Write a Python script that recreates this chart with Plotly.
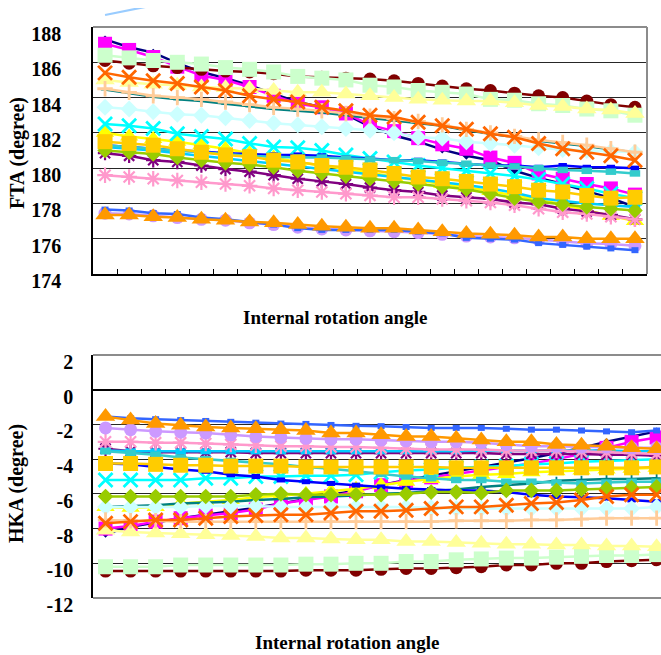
import plotly.graph_objects as go

categories = list(range(1, 24))

# ---------------- FTA (degree) ----------------
fta_navy = [187.3, 186.85, 186.55, 185.95, 185.45, 185.1, 184.7, 184.2, 183.75, 183.45, 183.05, 182.35, 181.85, 181.5, 181.05, 180.7, 180.45, 179.85, 179.45, 179.1, 178.7, 178.3, 177.8]
fta_magenta = [187.05, 186.7, 186.3, 185.75, 185.25, 185.0, 184.6, 184.1, 183.65, 183.45, 183.1, 182.45, 182.1, 181.7, 181.35, 181.1, 180.6, 180.3, 179.7, 179.4, 179.1, 178.85, 178.5]
fta_yellow = [182.0, 181.8, 181.65, 181.5, 181.3, 181.1, 180.85, 180.6, 180.35, 180.15, 179.95, 179.75, 179.5, 179.3, 179.1, 178.9, 178.7, 178.45, 178.2, 177.95, 177.6, 177.3, 177.0]
fta_cyan = [182.5, 182.4, 182.25, 181.95, 181.8, 181.65, 181.4, 181.2, 181.15, 181.0, 180.75, 180.55, 180.35, 180.15, 180.0, 179.85, 179.7, 179.55, 179.35, 179.1, 178.85, 178.55, 178.3]
fta_purple = [180.85, 180.7, 180.45, 180.35, 180.15, 179.95, 179.8, 179.6, 179.4, 179.25, 179.1, 178.9, 178.75, 178.65, 178.45, 178.35, 178.25, 178.05, 177.95, 177.7, 177.55, 177.35, 177.1]
fta_darkred = [186.1, 185.95, 185.8, 185.7, 185.6, 185.5, 185.45, 185.35, 185.2, 185.15, 185.1, 185.05, 184.95, 184.8, 184.65, 184.5, 184.4, 184.25, 184.1, 184.0, 183.8, 183.6, 183.45]
fta_teal = [184.45, 184.25, 184.05, 183.9, 183.8, 183.65, 183.5, 183.35, 183.25, 183.15, 183.0, 182.85, 182.7, 182.55, 182.4, 182.15, 181.95, 181.75, 181.55, 181.4, 181.25, 181.05, 180.9]
fta_blue = [181.3, 181.2, 181.1, 181.0, 180.95, 180.85, 180.8, 180.75, 180.75, 180.7, 180.6, 180.55, 180.45, 180.45, 180.35, 180.25, 180.15, 180.15, 180.05, 180.15, 180.05, 180.05, 180.0]
fta_skyblue = [181.2, 181.1, 181.0, 180.85, 180.7, 180.55, 180.4, 180.25, 180.1, 179.95, 179.8, 179.65, 179.5, 179.35, 179.2, 179.05, 178.85, 178.6, 178.3, 178.15, 178.0, 177.9, 177.8]
fta_lightcyan = [183.45, 183.35, 183.2, 183.05, 183.0, 182.85, 182.7, 182.55, 182.45, 182.35, 182.25, 182.15, 182.0, 181.75, 181.7, 181.5, 181.4, 181.3, 181.15, 181.05, 181.0, 180.95, 180.9]
fta_lightgreen = [186.4, 186.25, 186.1, 186.0, 185.9, 185.7, 185.6, 185.45, 185.2, 185.1, 185.0, 184.7, 184.6, 184.4, 184.3, 184.2, 183.9, 183.85, 183.65, 183.55, 183.35, 183.25, 183.0]
fta_lightyellow = [185.0, 184.85, 184.75, 184.7, 184.6, 184.55, 184.5, 184.4, 184.3, 184.3, 184.2, 184.1, 184.0, 183.9, 183.85, 183.8, 183.8, 183.7, 183.55, 183.5, 183.35, 183.3, 183.1]
fta_lightblue = [188.68, 188.97, 189.3, 189.5, 189.6, 189.7, 189.75, 189.8, 189.8, 189.85, 189.85, 189.9, 189.9, 189.9, 189.95, 189.95, 190.0, 190.0, 190.0, 190.05, 190.05, 190.1, 190.1]
fta_pink = [179.6, 179.5, 179.4, 179.3, 179.2, 179.1, 179.0, 178.85, 178.75, 178.65, 178.55, 178.45, 178.35, 178.35, 178.25, 178.15, 178.05, 177.9, 177.7, 177.5, 177.4, 177.25, 177.1]
fta_lavender = [177.45, 177.4, 177.3, 177.2, 177.1, 177.05, 176.9, 176.8, 176.65, 176.55, 176.5, 176.45, 176.4, 176.35, 176.25, 176.15, 176.1, 176.05, 175.95, 175.85, 175.75, 175.7, 175.6]
fta_peach = [184.5, 184.3, 184.1, 184.0, 183.9, 183.75, 183.6, 183.45, 183.35, 183.25, 183.1, 182.95, 182.8, 182.65, 182.45, 182.2, 182.0, 181.8, 181.6, 181.45, 181.3, 181.1, 180.9]
fta_royalblue = [177.65, 177.6, 177.45, 177.4, 177.2, 177.1, 176.95, 176.8, 176.6, 176.5, 176.5, 176.5, 176.5, 176.4, 176.3, 176.05, 176.0, 175.95, 175.75, 175.65, 175.55, 175.45, 175.35]
fta_turquoise = [181.3, 181.2, 181.1, 181.0, 180.9, 180.8, 180.7, 180.65, 180.6, 180.6, 180.55, 180.5, 180.45, 180.4, 180.3, 180.25, 180.15, 180.1, 180.0, 179.9, 179.85, 179.8, 179.7]
fta_green = [181.0, 180.9, 180.8, 180.6, 180.45, 180.3, 180.2, 180.05, 179.85, 179.7, 179.55, 179.4, 179.25, 179.1, 178.95, 178.8, 178.55, 178.3, 178.1, 177.95, 177.8, 177.7, 177.6]
fta_gold = [181.5, 181.4, 181.3, 181.1, 180.9, 180.75, 180.65, 180.45, 180.35, 180.15, 180.05, 179.9, 179.7, 179.5, 179.4, 179.25, 179.1, 178.95, 178.75, 178.65, 178.45, 178.3, 178.35]
fta_orange = [177.35, 177.35, 177.25, 177.2, 177.1, 177.05, 176.95, 176.9, 176.8, 176.7, 176.65, 176.6, 176.6, 176.5, 176.4, 176.3, 176.25, 176.2, 176.1, 176.1, 176.0, 176.0, 176.0]
fta_orangered = [185.4, 185.15, 184.95, 184.8, 184.6, 184.4, 184.1, 183.9, 183.75, 183.45, 183.25, 183.0, 182.9, 182.6, 182.4, 182.2, 181.95, 181.75, 181.4, 181.1, 180.9, 180.7, 180.45]

# ---------------- HKA (degree) ----------------
hka_navy = [-8.3, -7.9, -7.65, -7.4, -7.2, -7.0, -6.8, -6.55, -6.3, -6.05, -5.8, -5.5, -5.2, -4.95, -4.7, -4.45, -4.2, -3.95, -3.65, -3.35, -3.0, -2.7, -2.4]
hka_magenta = [-8.0, -7.85, -7.6, -7.4, -7.25, -7.1, -6.9, -6.55, -6.35, -6.15, -5.85, -5.5, -5.25, -5.05, -4.85, -4.65, -4.45, -4.25, -4.0, -3.7, -3.35, -3.0, -2.75]
hka_yellow = [-6.75, -6.8, -6.75, -6.55, -6.45, -6.35, -6.2, -6.1, -6.0, -5.85, -5.7, -5.5, -5.3, -5.15, -5.0, -4.9, -4.85, -4.75, -4.7, -4.65, -4.6, -4.55, -4.5]
hka_cyan = [-5.2, -5.2, -5.2, -5.2, -5.1, -5.1, -5.0, -5.0, -4.95, -4.95, -4.9, -4.75, -4.65, -4.6, -4.5, -4.45, -4.4, -4.3, -4.25, -4.15, -4.1, -4.05, -4.0]
hka_purple = [-3.4, -3.55, -3.6, -3.6, -3.6, -3.6, -3.65, -3.65, -3.65, -3.65, -3.65, -3.65, -3.65, -3.65, -3.65, -3.65, -3.7, -3.7, -3.7, -3.7, -3.75, -3.75, -3.8]
hka_darkred = [-10.45, -10.45, -10.45, -10.45, -10.45, -10.45, -10.45, -10.45, -10.4, -10.4, -10.4, -10.35, -10.3, -10.3, -10.25, -10.2, -10.1, -10.1, -10.0, -10.0, -9.9, -9.85, -9.8]
hka_teal = [-6.75, -6.7, -6.65, -6.55, -6.5, -6.45, -6.35, -6.3, -6.2, -6.15, -6.1, -6.0, -5.95, -5.85, -5.75, -5.6, -5.5, -5.4, -5.25, -5.2, -5.15, -5.15, -5.1]
hka_blue = [-4.25, -4.3, -4.45, -4.6, -4.7, -4.9, -5.0, -5.2, -5.3, -5.4, -5.5, -5.6, -5.7, -5.75, -5.8, -5.8, -5.9, -6.05, -6.15, -6.2, -6.25, -6.35, -6.45]
hka_skyblue = [-3.5, -3.55, -3.55, -3.55, -3.55, -3.55, -3.55, -3.55, -3.55, -3.55, -3.55, -3.55, -3.55, -3.55, -3.55, -3.5, -3.5, -3.5, -3.5, -3.5, -3.5, -3.55, -3.55]
hka_lightcyan = [-6.75, -6.75, -6.75, -6.75, -6.7, -6.7, -6.7, -6.75, -6.75, -6.75, -6.75, -6.75, -6.75, -6.8, -6.85, -6.85, -6.85, -6.85, -6.85, -6.85, -6.85, -6.85, -6.75]
hka_lightgreen = [-10.2, -10.2, -10.2, -10.1, -10.1, -10.1, -10.1, -10.1, -10.05, -10.05, -10.0, -10.0, -9.9, -9.9, -9.8, -9.75, -9.7, -9.7, -9.65, -9.6, -9.55, -9.55, -9.5]
hka_lightyellow = [-8.1, -8.2, -8.25, -8.3, -8.35, -8.4, -8.45, -8.55, -8.55, -8.6, -8.65, -8.65, -8.75, -8.75, -8.8, -8.85, -8.9, -8.9, -8.95, -8.95, -9.0, -9.0, -9.05]
hka_pink = [-3.0, -3.0, -3.05, -3.05, -3.1, -3.15, -3.2, -3.25, -3.25, -3.3, -3.3, -3.35, -3.4, -3.45, -3.45, -3.45, -3.5, -3.5, -3.5, -3.55, -3.6, -3.65, -3.7]
hka_lavender = [-2.2, -2.3, -2.4, -2.45, -2.5, -2.6, -2.7, -2.75, -2.8, -2.85, -2.85, -2.9, -2.95, -3.0, -3.0, -3.05, -3.15, -3.25, -3.25, -3.3, -3.3, -3.35, -3.35]
hka_peach = [-7.5, -7.55, -7.55, -7.6, -7.6, -7.6, -7.6, -7.6, -7.6, -7.6, -7.6, -7.6, -7.6, -7.6, -7.55, -7.55, -7.55, -7.5, -7.5, -7.45, -7.4, -7.4, -7.4]
hka_royalblue = [-1.55, -1.65, -1.7, -1.75, -1.8, -1.85, -1.9, -1.95, -1.97, -2.03, -2.08, -2.1, -2.15, -2.2, -2.2, -2.2, -2.25, -2.3, -2.3, -2.35, -2.4, -2.45, -2.35]
hka_turquoise = [-3.55, -3.65, -3.75, -3.9, -4.0, -4.1, -4.2, -4.3, -4.45, -4.55, -4.7, -4.85, -5.0, -5.1, -5.2, -5.2, -5.3, -5.3, -5.35, -5.4, -5.35, -5.3, -5.3]
hka_green = [-6.15, -6.15, -6.15, -6.15, -6.15, -6.15, -6.05, -6.0, -6.05, -6.05, -6.05, -6.05, -6.0, -5.9, -5.9, -5.95, -5.8, -5.8, -5.8, -5.75, -5.7, -5.65, -5.6]
hka_gold = [-4.25, -4.25, -4.3, -4.35, -4.35, -4.4, -4.4, -4.4, -4.45, -4.45, -4.45, -4.45, -4.45, -4.45, -4.5, -4.5, -4.5, -4.5, -4.5, -4.5, -4.5, -4.5, -4.45]
hka_orange = [-1.55, -1.75, -1.95, -2.05, -2.15, -2.2, -2.25, -2.3, -2.35, -2.5, -2.5, -2.6, -2.7, -2.7, -2.8, -2.9, -3.0, -3.0, -3.15, -3.2, -3.25, -3.35, -3.4]
hka_orangered = [-7.7, -7.6, -7.5, -7.5, -7.4, -7.3, -7.25, -7.2, -7.2, -7.1, -7.0, -7.0, -6.95, -6.85, -6.75, -6.75, -6.65, -6.55, -6.5, -6.35, -6.15, -6.05, -6.05]

fta_tick_vals = [174, 176, 178, 180, 182, 184, 186, 188]
fta_tick_text = ["174", "176", "178", "180", "182", "184", "186", "188"]
hka_tick_vals = [-12, -10, -8, -6, -4, -2, 0, 2]
hka_tick_text = ["-12", "-10", "-8", "-6", "-4", "-2", "0", "2"]
x_title = "Internal rotation angle"
fta_title = "FTA (degree)"
hka_title = "HKA (degree)"

# series in drawing order: (fta, hka, color, symbol, size, marker line width)
series = [
    (fta_navy, hka_navy, "#000080", "diamond", 6, 0),
    (fta_magenta, hka_magenta, "#FF00FF", "square", 14, 0),
    (fta_yellow, hka_yellow, "#FFFF00", "triangle-up", 16, 0),
    (fta_cyan, hka_cyan, "#00FFFF", "x-thin-open", 14, 2.8),
    (fta_purple, hka_purple, "#800080", "asterisk-open", 12, 2.2),
    (fta_darkred, hka_darkred, "#800000", "circle", 13, 0),
    (fta_teal, hka_teal, "#008080", "cross-thin-open", 6, 1.8),
    (fta_blue, hka_blue, "#0000FF", "line-ew-open", 6, 5),
    (fta_skyblue, hka_skyblue, "#00CCFF", "line-ew-open", 7.5, 6),
    (fta_lightcyan, hka_lightcyan, "#CCFFFF", "diamond", 13, 0),
    (fta_lightgreen, hka_lightgreen, "#CCFFCC", "square", 15, 0),
    (fta_lightyellow, hka_lightyellow, "#FFFF99", "triangle-up", 17, 0),
    (fta_lightblue, None, "#99CCFF", "x-thin-open", 12, 2),
    (fta_pink, hka_pink, "#FF99CC", "asterisk-open", 13, 2.2),
    (fta_lavender, hka_lavender, "#CC99FF", "circle", 13, 0),
    (fta_peach, hka_peach, "#FFCC99", "cross-thin-open", 11, 2.8),
    (fta_royalblue, hka_royalblue, "#3366FF", "line-ew-open", 5, 6),
    (fta_turquoise, hka_turquoise, "#33CCCC", "line-ew-open", 7.5, 6.5),
    (fta_green, hka_green, "#99CC00", "diamond", 12, 0),
    (fta_gold, hka_gold, "#FFCC00", "square", 15, 0),
    (fta_orange, hka_orange, "#FF9900", "triangle-up", 17, 0),
    (fta_orangered, hka_orangered, "#FF6600", "x-thin-open", 14, 2.8),
]

fig = go.Figure()
for fta, hka, color, sym, size, mlw in series:
    marker = dict(symbol=sym, size=size, color=color, line=dict(width=mlw, color=color))
    if hka is None:
        # series above the FTA range: only its line shows above the plot frame
        fig.add_trace(go.Scatter(
            x=categories, y=fta, mode="lines",
            line=dict(color=color, width=2.2),
            xaxis="x", yaxis="y3", hoverinfo="skip"))
        continue
    fig.add_trace(go.Scatter(
        x=categories, y=fta, mode="lines+markers",
        line=dict(color=color, width=2.5), marker=marker,
        xaxis="x", yaxis="y", hoverinfo="skip"))
    fig.add_trace(go.Scatter(
        x=categories, y=hka, mode="lines+markers",
        line=dict(color=color, width=2.5), marker=marker,
        xaxis="x2", yaxis="y2", hoverinfo="skip"))

W, H = 661, 655
ML, MR, MT, MB = 93, 0, 8, 57
PW, PH = W - ML - MR, H - MT - MB


def py(p):
    return (H - MB - p) / PH


def px(p):
    return (p - ML) / PW


tick_font = dict(family="Liberation Serif", size=20, color="black", weight="bold")
boundaries = [c + 0.5 for c in categories[:-1]]
grid = "#262626"

fig.update_layout(
    width=W, height=H, margin=dict(l=ML, r=MR, t=MT, b=MB),
    paper_bgcolor="white", plot_bgcolor="white", showlegend=False,
    xaxis=dict(domain=[0, px(647)], range=[0.5, 23.5], anchor="y",
               tickvals=boundaries, ticks="inside", ticklen=5, tickcolor="black",
               showticklabels=False, showline=True, linecolor="black", linewidth=1.5,
               showgrid=False, zeroline=False),
    yaxis=dict(domain=[py(274), py(27)], range=[174, 188], anchor="x",
               tickvals=fta_tick_vals, ticktext=fta_tick_text, tickfont=tick_font,
               ticks="", ticklabelstandoff=26, ticklabelshift=7,
               showgrid=True, gridcolor=grid, gridwidth=1,
               showline=True, linecolor="black", linewidth=1.5, zeroline=False),
    yaxis3=dict(domain=[py(27), 1], range=[188, 188 + 19 / 17.64], anchor="x",
                visible=False),
    xaxis2=dict(domain=[0, 1], range=[0.5, 0.5 + PW / 25.05], anchor="y2",
                showticklabels=False, ticks="", showline=False, showgrid=False,
                zeroline=False),
    yaxis2=dict(domain=[0, py(355)], range=[-12, 2], anchor="x2",
                tickvals=hka_tick_vals, ticktext=hka_tick_text, tickfont=tick_font,
                ticks="", ticklabelstandoff=14, ticklabelshift=7,
                showgrid=True, gridcolor=grid, gridwidth=1,
                showline=True, linecolor="black", linewidth=1.5,
                zeroline=True, zerolinecolor="black", zerolinewidth=1.5),
    xaxis3=dict(overlaying="x2", anchor="free", position=py(390),
                range=[0.5, 0.5 + PW / 25.05], tickvals=boundaries,
                ticks="inside", ticklen=4, tickcolor="black",
                showticklabels=False, showline=True, linecolor="black",
                linewidth=1.5, showgrid=False, zeroline=False),
)

frame = "#8c8c8c"
shapes = [
    dict(type="line", xref="x domain", yref="y domain", x0=0, x1=1, y0=1, y1=1,
         line=dict(color=frame, width=2), layer="above"),
    dict(type="line", xref="x domain", yref="y domain", x0=1, x1=1, y0=0, y1=1,
         line=dict(color=frame, width=2), layer="above"),
    dict(type="line", xref="x2 domain", yref="y2 domain", x0=0, x1=1, y0=1, y1=1,
         line=dict(color=frame, width=2), layer="above"),
    dict(type="line", xref="x2 domain", yref="y2 domain", x0=0, x1=1, y0=0, y1=0,
         line=dict(color=frame, width=2), layer="above"),
]
fig.update_layout(shapes=shapes)

title_font = dict(family="Liberation Serif", size=19, color="black", weight="bold")
ytitle_font = dict(family="Liberation Serif", size=20, color="black", weight="bold")
fig.update_layout(annotations=[
    dict(text=x_title, xref="paper", yref="paper", x=px(335), y=py(318),
         xanchor="center", yanchor="middle", showarrow=False, font=title_font),
    dict(text=x_title, xref="paper", yref="paper", x=px(347), y=py(642),
         xanchor="center", yanchor="middle", showarrow=False, font=title_font),
    dict(text=fta_title, xref="paper", yref="paper", x=px(17), y=py(153),
         xanchor="center", yanchor="middle", showarrow=False, textangle=-90,
         font=ytitle_font),
    dict(text=hka_title, xref="paper", yref="paper", x=px(17), y=py(484),
         xanchor="center", yanchor="middle", showarrow=False, textangle=-90,
         font=ytitle_font),
])

fig.write_html(
    "out.html",
    config={"displayModeBar": False},
    post_script="document.body.style.margin='0';document.body.style.overflow='hidden';",
)
